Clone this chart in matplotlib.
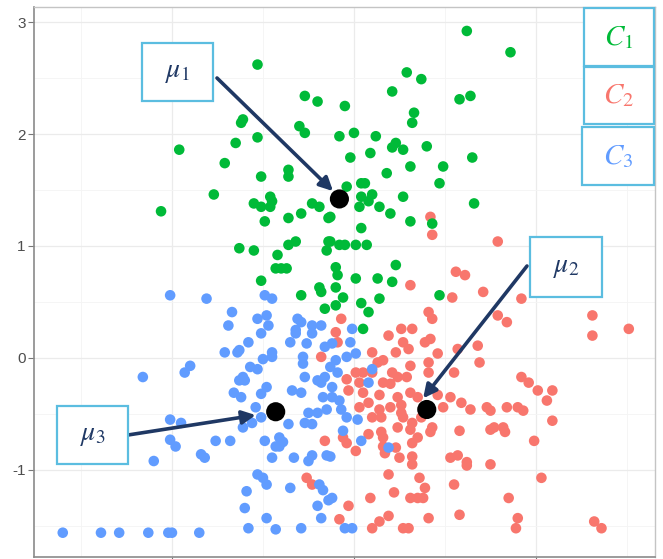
import numpy as np
import matplotlib
matplotlib.use("Agg")
import matplotlib.pyplot as plt
from matplotlib.patches import Rectangle

plt.rcParams["font.family"] = ["Liberation Sans", "DejaVu Sans"]
plt.rcParams["mathtext.fontset"] = "stix"
plt.rcParams["axes.unicode_minus"] = False

# cluster colours (ggplot defaults)
col_green = "#00BA38"
col_red = "#F8766D"
col_blue = "#619CFF"
navy = "#1F3864"
box_col = "#5BBDE0"

# points (x, y)
green_pts = np.array([
    (-0.53, 2.62), (-0.27, 2.34), (-0.20, 2.29), (-0.61, 2.13), (-0.62, 2.10), (-0.30, 2.07),
    (-0.27, 2.01), (-0.53, 1.97), (-0.96, 1.86), (-0.65, 1.92), (-0.71, 1.74), (-0.36, 1.68),
    (-0.36, 1.62), (-0.51, 1.62), (-0.77, 1.46), (-1.06, 1.31), (-0.55, 1.38), (-0.51, 1.35),
    (-0.46, 1.44), (-0.45, 1.40), (-0.46, 1.35), (-0.49, 1.22), (-0.36, 1.25), (-0.29, 1.29),
    (-0.23, 1.38), (-0.19, 1.35), (-0.14, 1.25), (-0.63, 0.98), (-0.55, 0.96), (-0.36, 1.01),
    (-0.32, 1.04), (-0.14, 1.04), (-0.15, 0.96), (-0.42, 0.92), (-0.43, 0.80), (-0.40, 0.80),
    (-0.37, 0.80), (-0.51, 0.69), (0.62, 2.92), (0.86, 2.73), (0.29, 2.55), (0.37, 2.49),
    (0.21, 2.38), (0.58, 2.31), (0.64, 2.34), (-0.05, 2.25), (0.33, 2.19), (0.32, 2.10),
    (-0.08, 1.98), (0.00, 2.01), (0.12, 1.98), (0.21, 1.88), (0.23, 1.92), (0.27, 1.86),
    (0.40, 1.89), (-0.02, 1.79), (0.09, 1.83), (0.65, 1.79), (0.31, 1.71), (0.49, 1.71),
    (0.18, 1.65), (-0.04, 1.53), (0.04, 1.56), (0.06, 1.56), (0.47, 1.56), (0.04, 1.44),
    (0.10, 1.46), (0.08, 1.40), (0.27, 1.44), (0.66, 1.38), (0.03, 1.35), (0.14, 1.35),
    (0.20, 1.29), (0.31, 1.22), (0.43, 1.20), (0.04, 1.16), (-0.13, 1.26), (-0.08, 1.01),
    (-0.05, 1.01), (0.01, 1.01), (0.07, 1.01), (-0.13, 1.04), (0.23, 0.83), (-0.10, 0.81),
    (-0.09, 0.74), (0.01, 0.71), (0.13, 0.71), (0.21, 0.68), (-0.19, 0.63), (-0.29, 0.56),
    (-0.18, 0.59), (-0.16, 0.44), (-0.10, 0.63), (-0.06, 0.54), (-0.10, 0.47), (0.04, 0.49),
    (0.14, 0.53), (0.08, 0.41), (0.05, 0.26), (0.47, 0.56),
])

red_pts = np.array([
    (0.42, 1.26), (0.43, 1.10), (0.79, 1.04), (0.56, 0.77), (0.61, 0.74), (0.31, 0.65),
    (0.54, 0.54), (0.71, 0.59), (0.92, 0.53), (0.41, 0.41), (0.43, 0.35), (0.79, 0.38),
    (0.84, 0.32), (1.31, 0.38), (1.31, 0.20), (1.51, 0.26), (-0.07, 0.35), (-0.10, 0.23),
    (0.19, 0.20), (0.26, 0.26), (0.32, 0.26), (-0.09, 0.14), (0.42, 0.17), (0.39, 0.14),
    (0.27, 0.14), (0.30, 0.08), (0.57, 0.08), (0.68, 0.11), (0.10, 0.05), (0.23, 0.05),
    (0.46, 0.04), (0.69, -0.04), (0.13, -0.04), (0.16, -0.02), (0.41, -0.04), (0.31, -0.07),
    (0.55, -0.13), (0.01, -0.13), (0.05, -0.13), (0.10, -0.13), (0.21, -0.13), (0.24, -0.17),
    (0.29, -0.17), (0.41, -0.13), (-0.04, -0.19), (0.03, -0.22), (0.16, -0.22), (0.20, -0.23),
    (0.92, -0.17), (0.96, -0.22), (1.01, -0.29), (1.09, -0.29), (1.06, -0.38), (-0.03, -0.29),
    (0.05, -0.31), (0.14, -0.33), (0.24, -0.35), (0.31, -0.31), (0.35, -0.35), (0.46, -0.33),
    (0.53, -0.35), (0.59, -0.40), (0.03, -0.44), (0.08, -0.40), (0.14, -0.46), (0.20, -0.44),
    (0.26, -0.42), (0.26, -0.49), (0.49, -0.44), (0.64, -0.46), (0.73, -0.44), (0.75, -0.47),
    (0.84, -0.44), (0.90, -0.44), (0.93, -0.47), (0.10, -0.53), (0.15, -0.53), (0.27, -0.53),
    (0.32, -0.58), (0.37, -0.53), (0.24, -0.62), (1.09, -0.56), (0.15, -0.66), (0.16, -0.71),
    (0.31, -0.64), (0.35, -0.71), (0.43, -0.62), (0.42, -0.66), (0.58, -0.65), (0.75, -0.64),
    (0.77, -0.62), (0.82, -0.62), (0.83, -0.66), (0.08, -0.68), (-0.06, -0.71), (-0.04, -0.76),
    (0.01, -0.83), (0.16, -0.79), (0.17, -0.85), (0.23, -0.80), (0.32, -0.76), (0.25, -0.89),
    (0.32, -0.88), (0.32, -0.95), (0.53, -0.89), (0.57, -0.87), (0.62, -0.93), (0.62, -0.96),
    (0.75, -0.95), (0.99, -0.74), (0.19, -1.04), (0.36, -1.07), (0.55, -1.13), (1.03, -1.07),
    (0.22, -1.20), (0.39, -1.16), (0.38, -1.25), (0.31, -1.25), (0.35, -1.25), (0.09, -1.25),
    (-0.03, -1.32), (0.85, -1.25), (0.19, -1.41), (0.14, -1.46), (-0.08, -1.44), (0.41, -1.43),
    (0.58, -1.40), (0.90, -1.43), (0.89, -1.52), (1.32, -1.46), (1.36, -1.52), (0.10, -1.52),
    (0.27, -1.52), (0.30, -1.52), (-0.18, 0.01), (-0.16, -0.74), (-0.26, -1.07), (-0.23, -1.13),
])

blue_pts = np.array([
    (-1.01, 0.56), (-0.81, 0.53), (-0.49, 0.56), (-0.45, 0.53), (-0.67, 0.41), (-0.69, 0.29),
    (-0.53, 0.35), (-0.48, 0.38), (-0.47, 0.29), (-0.51, 0.22), (-0.31, 0.35), (-0.29, 0.32),
    (-0.32, 0.25), (-0.32, 0.22), (-0.23, 0.29), (-0.18, 0.29), (-0.23, 0.22), (-0.35, 0.14),
    (-0.26, 0.13), (-0.16, 0.10), (-0.58, 0.14), (-0.63, 0.07), (-0.64, 0.05), (-0.71, 0.05),
    (-0.50, -0.01), (-0.45, 0.05), (-0.45, 0.01), (-0.28, 0.01), (-0.28, -0.05), (-0.57, -0.08),
    (-0.53, -0.10), (-0.90, -0.07), (-0.93, -0.13), (-1.16, -0.17), (-0.61, -0.17), (-0.63, -0.20),
    (-0.60, -0.20), (-0.27, -0.17), (-0.20, -0.20), (-0.18, -0.22), (-0.16, -0.17), (-0.48, -0.26),
    (-0.66, -0.31), (-0.62, -0.35), (-0.51, -0.32), (-0.34, -0.29), (-0.29, -0.31), (-0.17, -0.35),
    (-0.54, -0.44), (-0.25, -0.49), (-0.20, -0.49), (-0.15, -0.46), (-0.51, -0.53), (-1.01, -0.55),
    (-0.95, -0.58), (-0.61, -0.62), (-0.56, -0.58), (-0.36, -0.59), (-0.27, -0.58), (-0.23, -0.59),
    (-1.01, -0.73), (-0.98, -0.79), (-0.76, -0.74), (-0.68, -0.74), (-0.49, -0.74), (-0.41, -0.71),
    (-0.39, -0.75), (-0.43, -0.79), (-0.41, -0.79), (-0.84, -0.86), (-0.82, -0.89), (-1.10, -0.92),
    (-0.45, -0.89), (-0.33, -0.89), (-0.25, -0.92), (-0.23, -0.87), (-0.15, -0.87), (-0.53, -1.04),
    (-0.50, -1.07), (-0.48, -1.13), (-0.59, -1.19), (-0.35, -1.16), (-0.19, -1.13), (-0.17, -1.18),
    (-0.60, -1.34), (-0.20, -1.32), (-0.48, -1.43), (-0.18, -1.43), (-0.58, -1.52), (-0.43, -1.53),
    (-0.29, -1.52), (-1.60, -1.56), (-1.39, -1.56), (-1.29, -1.56), (-1.13, -1.56), (-1.02, -1.56),
    (-1.00, -1.56), (-0.85, -1.56), (-0.01, 0.26), (-0.02, 0.14), (-0.04, 0.01), (0.01, 0.04),
    (-0.10, -0.02), (0.10, -0.10), (0.08, -0.22), (-0.09, -0.13), (-0.12, -0.35), (-0.07, -0.46),
    (-0.04, -0.53), (0.02, -0.55), (-0.06, -0.65), (0.04, -0.74), (0.19, -0.80), (-0.13, -0.88),
    (-0.12, -1.25), (-0.05, -1.52), (-0.01, -1.52), (-0.14, -1.27), (-0.12, 0.13), (-0.13, -0.08),
    (-0.12, -0.26), (-0.08, -0.38),
])

centers = np.array([(-0.08, 1.42), (0.40, -0.46), (-0.43, -0.48)])
center_labels = [r"$\mu_1$", r"$\mu_2$", r"$\mu_3$"]
cluster_labels = [r"$C_1$", r"$C_2$", r"$C_3$"]

fig = plt.figure(figsize=(6.63, 5.59), dpi=100)
ax = fig.add_axes([34 / 663, 2 / 559, 621 / 663, 550 / 559])

ax.scatter(red_pts[:, 0], red_pts[:, 1], s=58, color=col_red, edgecolors="none", zorder=3)
ax.scatter(blue_pts[:, 0], blue_pts[:, 1], s=58, color=col_blue, edgecolors="none", zorder=3)
ax.scatter(green_pts[:, 0], green_pts[:, 1], s=58, color=col_green, edgecolors="none", zorder=3)
ax.scatter(centers[:, 0], centers[:, 1], s=190, color="black", edgecolors="none", zorder=4)

ax.set_xlim(-1.758, 1.654)
ax.set_ylim(-1.777, 3.134)
ax.set_xticks([-1, 0, 1])
ax.set_xticks([-1.5, -0.5, 0.5, 1.5], minor=True)
ax.set_yticks([-1, 0, 1, 2, 3])
ax.set_yticks([-1.5, -0.5, 0.5, 1.5, 2.5], minor=True)
ax.set_xticklabels([])
ax.grid(True, which="major", color="#EBEBEB", lw=0.9, zorder=0)
ax.grid(True, which="minor", color="#F4F4F4", lw=0.6, zorder=0)
ax.tick_params(which="minor", length=0)
ax.tick_params(which="major", length=4, width=0.8, color="#777777", labelcolor="#4D4D4D",
               labelsize=11, pad=2)
for side in ["left", "bottom"]:
    ax.spines[side].set_color("#8A8A8A")
    ax.spines[side].set_linewidth(1.2)
for side in ["top", "right"]:
    ax.spines[side].set_color("#C4C4C4")
    ax.spines[side].set_linewidth(1.0)


def add_box(x0, y0, x1, y1, text, color, size):
    # box given in picture pixels (top-left origin)
    left, bottom = x0 / 663, 1 - y1 / 559
    w, h = (x1 - x0) / 663, (y1 - y0) / 559
    fig.patches.append(Rectangle((left, bottom), w, h, transform=fig.transFigure,
                                 facecolor="white", edgecolor=box_col, lw=1.6, zorder=5))
    fig.text(left + w / 2, bottom + h / 2, text, color=color, fontsize=size,
             ha="center", va="center", zorder=6)


# arrows from the mu boxes to the centroids
arrow_starts = [(217 / 663, 1 - 78 / 559), (527 / 663, 1 - 266 / 559), (128 / 663, 1 - 435 / 559)]
arrow_tips = [(-0.115, 1.49), (0.38, -0.36), (-0.54, -0.51)]
for start, tip in zip(arrow_starts, arrow_tips):
    ax.annotate("", xy=tip, xycoords="data", xytext=start, textcoords="figure fraction",
                arrowprops=dict(arrowstyle="-|>,head_length=0.8,head_width=0.4",
                                color=navy, lw=2.6, shrinkA=0, shrinkB=0), zorder=5)

add_box(142, 43, 213, 101, center_labels[0], navy, 20)
add_box(530, 237, 602, 297, center_labels[1], navy, 20)
add_box(57, 406, 128, 464, center_labels[2], navy, 20)

add_box(584, 8, 654, 66, cluster_labels[0], col_green, 21)
add_box(584, 67, 654, 124, cluster_labels[1], col_red, 21)
add_box(582, 127, 654, 185, cluster_labels[2], col_blue, 21)

fig.savefig("out.png", dpi=100)
